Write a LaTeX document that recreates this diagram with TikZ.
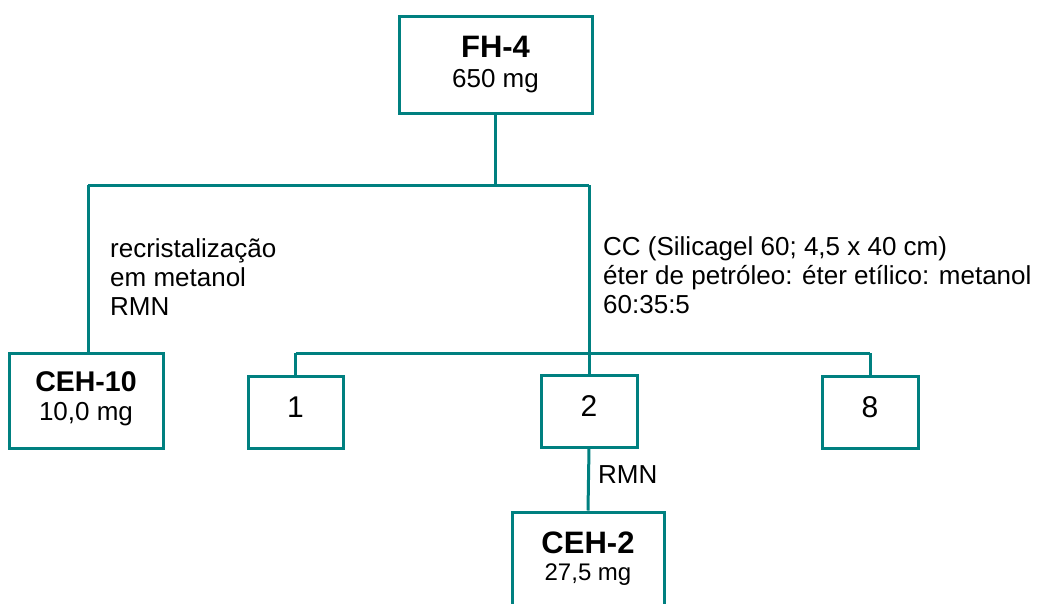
\documentclass[tikz,border=0pt]{standalone}
\usepackage{fontspec}
\setmainfont{Liberation Sans}
\begin{document}
\begin{tikzpicture}[x=1pt,y=-1pt,
  tealc/.style={draw=boxteal, line width=3pt},
  bx/.style={draw=boxteal, line width=3pt, fill=white, inner sep=0pt},
  lbl/.style={font=\fontsize{26}{29}\selectfont, align=left, inner sep=0pt, anchor=north west},
  bigt/.style={font=\fontsize{31}{33}\selectfont\bfseries, inner sep=0pt},
  mass/.style={font=\fontsize{26}{28}\selectfont, inner sep=0pt},
  num/.style={font=\fontsize{30}{32}\selectfont, inner sep=0pt}]
\definecolor{boxteal}{RGB}{0,128,128}
\clip (0,0) rectangle (1042,603);
\fill[white] (0,0) rectangle (1042,603);
% boxes
\node[bx, minimum width=193pt, minimum height=97pt] (fh) at (495.5,64.5) {};
\node[bigt] (fht) at (495.5,47) {FH-4};
\node[mass] (fhm) at (495.5,81) {650 mg};
\node[bx, minimum width=154pt, minimum height=95pt] (ceh10) at (86,400.5) {};
\node[bigt, font=\fontsize{28.5}{30}\selectfont\bfseries] (ceh10t) at (86,381.5) {CEH-10};
\node[mass] (ceh10m) at (86,414) {10,0 mg};
\node[bx, minimum width=95pt, minimum height=72pt] (b1) at (295.5,412) {};
\node[num] (b1t) at (295.5,407) {1};
\node[bx, minimum width=96pt, minimum height=72pt] (b2) at (589,411) {};
\node[num] (b2t) at (589,406) {2};
\node[bx, minimum width=96pt, minimum height=72pt] (b8) at (870,412) {};
\node[num] (b8t) at (870,407) {8};
\node[bx, minimum width=152pt, minimum height=110pt] (ceh2) at (588,567) {};
\node[bigt] (ceh2t) at (588,542.5) {CEH-2};
\node[mass, font=\fontsize{24}{26}\selectfont] (ceh2m) at (588,575) {27,5 mg};
% junctions
\coordinate (jL) at (88,185);
\coordinate (jR) at (589,185);
\coordinate (bL) at (295.5,353);
\coordinate (bR) at (870,353);
% connectors
\draw[tealc] (fh.south) -- (fh.south |- jL);
\draw[tealc] (jL) -- (jR);
\draw[tealc] (jL) -- (jL |- ceh10.north);
\draw[tealc] (jR) -- (b2.north);
\draw[tealc] (bL) -- (bR);
\draw[tealc] (bL) -- (b1.north);
\draw[tealc] (bR) -- (b8.north);
\draw[tealc] (b2.south) -- (ceh2.north);
% labels
\node[lbl] (tl) at (110,238) {recristalização\\em metanol\\RMN};
\node[lbl] (tr) at (603,236) {CC (Silicagel 60; 4,5 x 40 cm)\\éter de petróleo: éter etílico: metanol\\60:35:5};
\node[lbl] (trmn) at (598,465.5) {RMN};
\end{tikzpicture}
\end{document}
